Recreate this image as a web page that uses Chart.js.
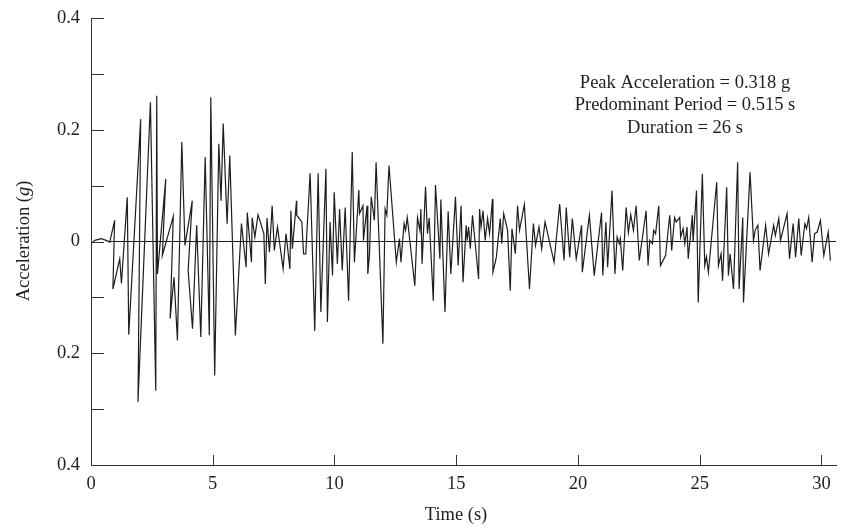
<!DOCTYPE html>
<html>
<head>
<meta charset="utf-8">
<script src="https://cdn.jsdelivr.net/npm/chart.js@4.4.1/dist/chart.umd.min.js"></script>
<style>
    html, body { margin: 0; padding: 0; background: #fff; }
    #wrap { width: 854px; height: 529px; }
</style>
</head>
<body>
<div id="wrap"><canvas id="accChart" width="854" height="529"></canvas></div>
<script>
const times = [
    0, 0.16, 0.42, 0.62, 0.77, 0.97, 0.90, 1.18, 1.25, 1.49, 1.55, 2.04, 1.93, 2.44, 2.66, 2.70,
    2.73, 3.07, 2.93, 3.38, 3.25, 3.41, 3.55, 3.73, 3.86, 4.16, 3.99, 4.17, 4.34, 4.51, 4.69, 4.86,
    4.92, 5.08, 5.25, 5.34, 5.43, 5.59, 5.70, 5.93, 6.18, 6.37, 6.42, 6.59, 6.62, 6.73, 6.86, 7.10,
    7.16, 7.23, 7.33, 7.44, 7.53, 7.66, 7.89, 8.01, 8.17, 8.21, 8.27, 8.44, 8.45, 8.66, 8.73, 8.82,
    9.00, 9.19, 9.33, 9.44, 9.65, 9.71, 9.82, 9.92, 9.99, 10.12, 10.21, 10.32, 10.44, 10.58, 10.73, 10.82,
    11.00, 11.03, 11.17, 11.19, 11.34, 11.37, 11.44, 11.51, 11.64, 11.71, 11.99, 12.08, 12.15, 12.24, 12.54, 12.67,
    12.73, 12.86, 12.92, 12.99, 13.30, 13.41, 13.51, 13.55, 13.60, 13.74, 13.82, 13.89, 14.06, 14.15, 14.33, 14.37,
    14.54, 14.67, 14.78, 14.97, 15.08, 15.20, 15.28, 15.41, 15.45, 15.51, 15.58, 15.67, 15.92, 15.96, 16.02, 16.10,
    16.19, 16.29, 16.37, 16.49, 16.51, 16.65, 16.81, 16.87, 16.95, 17.11, 17.22, 17.29, 17.43, 17.52, 17.60, 17.80,
    18.01, 18.17, 18.26, 18.40, 18.51, 18.65, 19.02, 19.25, 19.43, 19.52, 19.66, 19.77, 19.93, 20.15, 20.18, 20.47,
    20.67, 20.97, 21.02, 21.15, 21.22, 21.40, 21.52, 21.61, 21.70, 21.74, 21.84, 21.98, 22.07, 22.17, 22.28, 22.39,
    22.52, 22.80, 22.88, 22.95, 23.06, 23.11, 23.19, 23.32, 23.39, 23.60, 23.77, 23.80, 23.85, 23.97, 24.04, 24.18,
    24.22, 24.32, 24.39, 24.43, 24.48, 24.53, 24.70, 24.73, 24.87, 24.94, 25.11, 25.21, 25.28, 25.36, 25.70, 25.77,
    25.88, 25.94, 26.11, 26.18, 26.25, 26.39, 26.56, 26.62, 26.77, 26.80, 27.07, 27.21, 27.28, 27.39, 27.48, 27.71,
    27.83, 28.04, 28.11, 28.25, 28.32, 28.59, 28.69, 28.84, 28.94, 29.07, 29.17, 29.32, 29.39, 29.48, 29.62, 29.72,
    29.83, 29.96, 30.10, 30.28, 30.37
];
const accel = [
    -0.004, 0.002, 0.005, 0.002, -0.001, 0.038, -0.085, -0.031, -0.075, 0.079, -0.167, 0.219, -0.287, 0.249, -0.267, 0.261,
    -0.058, 0.112, -0.025, 0.045, -0.138, -0.064, -0.177, 0.178, -0.007, 0.073, -0.052, -0.156, 0.029, -0.171, 0.151, -0.168,
    0.258, -0.240, 0.175, 0.073, 0.211, 0.032, 0.154, -0.168, 0.032, -0.046, 0.052, -0.037, 0.043, 0.008, 0.048, 0.014,
    -0.076, 0.042, -0.019, 0.064, -0.016, 0.026, -0.049, 0.014, -0.049, 0.055, -0.013, 0.073, 0.047, 0.035, -0.022, -0.022,
    0.122, -0.160, 0.122, -0.126, 0.130, -0.144, 0.035, -0.061, 0.088, -0.040, 0.058, -0.052, 0.061, -0.106, 0.160, -0.037,
    0.092, 0.050, 0.064, 0.002, 0.064, -0.058, -0.022, 0.080, 0.038, 0.142, -0.183, 0.058, 0.047, 0.136, -0.037, 0.005,
    -0.037, 0.032, 0.020, 0.043, -0.079, 0.043, 0.020, 0.058, -0.040, 0.098, 0.014, 0.042, -0.106, 0.101, -0.031, 0.075,
    -0.126, 0.054, -0.058, 0.080, -0.043, 0.064, -0.073, 0.029, 0.002, 0.026, -0.013, 0.047, -0.067, 0.058, 0.026, 0.055,
    0.002, 0.041, 0.014, 0.076, -0.055, -0.028, 0.041, -0.004, 0.050, 0.020, -0.088, 0.023, -0.022, 0.064, 0.020, 0.066,
    -0.085, 0.032, -0.007, 0.026, -0.013, 0.035, -0.037, 0.067, -0.034, 0.061, -0.028, 0.041, -0.031, 0.029, -0.055, 0.047,
    -0.061, 0.052, -0.061, 0.035, -0.046, 0.091, -0.058, 0.008, -0.004, 0.005, -0.052, 0.061, 0.016, 0.048, 0.020, 0.064,
    -0.034, 0.055, -0.043, 0.002, -0.004, 0.020, 0.014, 0.064, -0.043, -0.025, 0.047, 0.029, -0.016, 0.043, 0.035, 0.043,
    0.008, 0.023, -0.004, 0.008, 0.026, -0.031, 0.047, -0.001, 0.091, -0.109, 0.121, -0.043, -0.027, -0.055, 0.106, -0.043,
    -0.022, -0.070, 0.097, -0.061, -0.022, -0.085, 0.142, -0.085, 0.043, -0.109, 0.124, 0.002, 0.020, 0.029, -0.052, 0.029,
    -0.022, 0.029, 0.011, 0.041, 0.002, 0.050, -0.031, 0.032, -0.028, 0.041, -0.025, 0.032, 0.023, 0.043, -0.037, 0.014,
    0.017, 0.038, -0.025, 0.017, -0.034
];
// baseline drawn from where the record starts to the end of the axis
const baseTimes = [0.77, 30.6];
const baseAccel = [0, 0];

const xTicks = [0, 5, 10, 15, 20, 25, 30];
const yTicks = [-0.4, -0.3, -0.2, -0.1, 0, 0.1, 0.2, 0.3, 0.4];
const yLabelled = [-0.4, -0.2, 0, 0.2, 0.4];

const notes = ['Peak Acceleration = 0.318 g', 'Predominant Period = 0.515 s', 'Duration = 26 s'];

const serif = '"Liberation Serif", "DejaVu Serif", serif';
const ink = '#1e1e1e';

// tick marks point into the plot, and the annotations / titles are drawn on top
const decorations = {
    id: 'decorations',
    afterDraw(chart) {
        const { ctx, chartArea, scales: { x, y } } = chart;
        ctx.save();
        ctx.strokeStyle = '#333';
        ctx.lineWidth = 1;
        ctx.beginPath();
        yTicks.forEach(v => {
            const py = Math.round(y.getPixelForValue(v)) + 0.5;
            ctx.moveTo(chartArea.left, py);
            ctx.lineTo(chartArea.left + 13, py);
        });
        xTicks.forEach(v => {
            const px = Math.round(x.getPixelForValue(v)) + 0.5;
            ctx.moveTo(px, chartArea.bottom);
            ctx.lineTo(px, chartArea.bottom - 10);
        });
        ctx.stroke();

        ctx.fillStyle = ink;
        ctx.font = '18.5px ' + serif;
        ctx.textAlign = 'center';
        ctx.textBaseline = 'middle';
        notes.forEach((s, i) => ctx.fillText(s, 685, 83 + i * 22.5));

        // x title
        ctx.fillText('Time (s)', 456, 515);

        // y title, with italic g
        ctx.translate(24, 241);
        ctx.rotate(-Math.PI / 2);
        const a = 'Acceleration (', g = 'g', b = ')';
        ctx.font = '18.5px ' + serif;
        const wa = ctx.measureText(a).width, wb = ctx.measureText(b).width;
        ctx.font = 'italic 18.5px ' + serif;
        const wg = ctx.measureText(g).width;
        let cx = -(wa + wg + wb) / 2;
        ctx.textAlign = 'left';
        ctx.font = '18.5px ' + serif;
        ctx.fillText(a, cx, 0);
        cx += wa;
        ctx.font = 'italic 18.5px ' + serif;
        ctx.fillText(g, cx, 0);
        cx += wg;
        ctx.font = '18.5px ' + serif;
        ctx.fillText(b, cx, 0);
        ctx.restore();
    }
};

new Chart(document.getElementById('accChart').getContext('2d'), {
    type: 'line',
    data: {
        datasets: [
            {
                data: times.map((t, i) => ({ x: t, y: accel[i] })),
                borderColor: ink,
                borderWidth: 1.2,
                pointRadius: 0,
                tension: 0
            },
            {
                data: baseTimes.map((t, i) => ({ x: t, y: baseAccel[i] })),
                borderColor: ink,
                borderWidth: 1.2,
                pointRadius: 0
            }
        ]
    },
    options: {
        responsive: false,
        animation: false,
        layout: { padding: { left: 0, top: 18, right: 18, bottom: 0 } },
        plugins: { legend: { display: false }, tooltip: { enabled: false } },
        scales: {
            x: {
                type: 'linear',
                min: 0,
                max: 30.6,
                afterFit: s => { s.height = 64; },
                grid: { display: false, drawTicks: false },
                border: { display: true, color: '#333', width: 1 },
                ticks: {
                    stepSize: 5,
                    includeBounds: false,
                    padding: 8,
                    color: ink,
                    font: { family: serif, size: 18.5 },
                    maxRotation: 0,
                    callback: v => v
                }
            },
            y: {
                type: 'linear',
                min: -0.4,
                max: 0.4,
                afterFit: s => { s.width = 91; s.paddingTop = 0; s.paddingBottom = 0; },
                grid: { display: false, drawTicks: false },
                border: { display: true, color: '#333', width: 1 },
                ticks: {
                    stepSize: 0.1,
                    padding: 11,
                    color: ink,
                    font: { family: serif, size: 18.5 },
                    // the source prints the magnitudes only, without minus signs
                    callback: v => yLabelled.some(l => Math.abs(l - v) < 1e-6) ? Math.abs(v).toFixed(1).replace(/^0\.0$/, '0') : ''
                }
            }
        }
    },
    plugins: [decorations]
});
</script>
</body>
</html>
